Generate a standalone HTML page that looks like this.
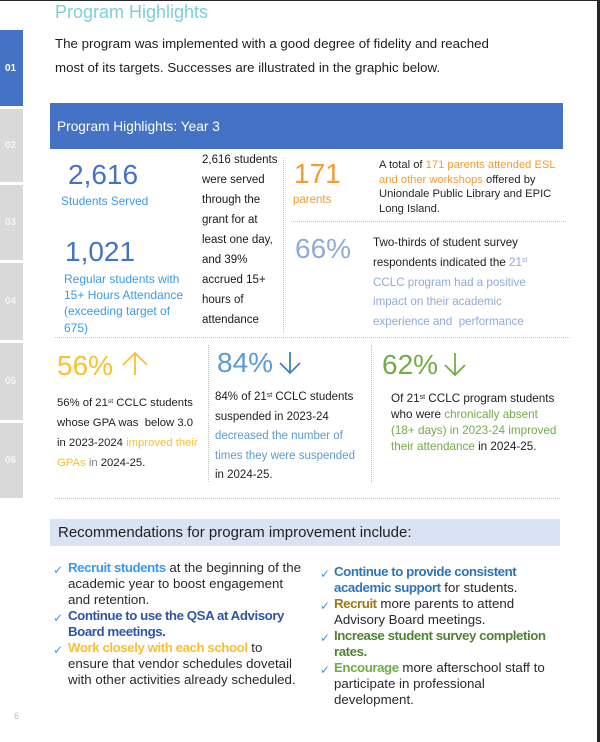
<!DOCTYPE html>
<html><head><meta charset="utf-8">
<style>
html,body{margin:0;padding:0;background:#fff;}
body{width:600px;height:742px;position:relative;overflow:hidden;font-family:"Liberation Sans",Arial,sans-serif;color:#222;}
.a{position:absolute;white-space:nowrap;}
.tab{position:absolute;left:0;width:23px;background:#d9d9d9;color:#f4f4f4;font-weight:bold;font-size:10px;display:flex;align-items:center;justify-content:center;padding-right:2px;box-sizing:border-box;}
.big{font-size:28px;line-height:28px;}
.hd{position:absolute;border-top:1px dotted #c4c4c4;height:0;}
.vd{position:absolute;border-left:1px dotted #c4c4c4;width:0;}
sup{font-size:0.6em;vertical-align:baseline;position:relative;top:-0.5em;line-height:0;}
.b{font-weight:bold;letter-spacing:-0.45px;}
.chk{position:absolute;color:#3a9af0;font-size:12px;}
</style></head><body>
<div style="position:absolute;left:0;top:0;width:600px;height:1px;background:#262626"></div>
<div style="position:absolute;left:597px;top:0;width:3px;height:742px;background:#262626"></div>

<div class="tab" style="top:30px;height:76px;background:#4472c4;color:#fff;">01</div>
<div class="tab" style="top:109px;height:73px;">02</div>
<div class="tab" style="top:185px;height:75px;">03</div>
<div class="tab" style="top:263px;height:77px;">04</div>
<div class="tab" style="top:343px;height:77px;">05</div>
<div class="tab" style="top:423px;height:75px;">06</div>

<div class="a" style="left:55px;top:2.8px;font-size:18px;line-height:18px;color:#7ccfd9;">Program Highlights</div>
<div class="a" style="left:55px;top:32.4px;font-size:13.3px;line-height:24px;color:#1e1e1e;">The program was implemented with a good degree of fidelity and reached<br>most of its targets. Successes are illustrated in the graphic below.</div>

<div style="position:absolute;left:50px;top:103px;width:513px;height:46px;background:#4472c4;"></div>
<div class="a" style="left:57px;top:120.4px;font-size:13.7px;line-height:13.7px;color:#fff;">Program Highlights: Year 3</div>

<div class="a big" style="left:68px;top:161.3px;color:#4472c4;">2,616</div>
<div class="a" style="left:61px;top:196px;font-size:11.8px;line-height:11.8px;color:#3a9af0;">Students Served</div>
<div class="a big" style="left:65px;top:238.3px;color:#4472c4;">1,021</div>
<div class="a" style="left:64px;top:270.7px;font-size:12px;line-height:16.3px;color:#3a9af0;">Regular students with<br>15+ Hours Attendance<br>(exceeding target of<br>675)</div>
<div class="a" style="left:202px;top:150px;font-size:11.5px;line-height:20px;color:#1a1a1a;">2,616 students<br>were served<br>through the<br>grant for at<br>least one day,<br>and 39%<br>accrued 15+<br>hours of<br>attendance</div>
<div class="vd" style="left:283px;top:158px;height:175px;"></div>

<div class="a big" style="left:294px;top:160.3px;color:#f79a2f;">171</div>
<div class="a" style="left:293px;top:195.3px;font-size:11.5px;line-height:11.5px;color:#f79a2f;">parents</div>
<div class="a" style="left:379px;top:157.8px;font-size:11.2px;line-height:14.7px;color:#262626;">A total of <span style="color:#f79a2f">171 parents attended ESL</span><br><span style="color:#f79a2f">and other workshops</span> offered by<br>Uniondale Public Library and EPIC<br>Long Island.</div>
<div class="hd" style="left:291px;top:221px;width:275px;"></div>
<div class="a big" style="left:295px;top:235.3px;color:#8faadc;">66%</div>
<div class="a" style="left:373px;top:233.1px;font-size:11.6px;line-height:19.75px;color:#1e1e1e;">Two-thirds of student survey<br>respondents indicated the <span style="color:#8faadc">21<sup>st</sup></span><br><span style="color:#8faadc">CCLC program had a positive<br>impact on their academic<br>experience and &nbsp;performance</span></div>

<div class="hd" style="left:55px;top:337px;width:515px;"></div>

<div class="a big" style="left:57px;top:352.3px;color:#f9c02f;">56%</div>
<svg class="a" style="left:120px;top:350px;" width="32" height="28"><g stroke="#f9c02f" stroke-width="1.8" fill="none"><line x1="15" y1="3" x2="15" y2="25"/><polyline points="3,15 15,3 27,15"/></g></svg>
<div class="a" style="left:57px;top:393px;font-size:11.3px;line-height:20px;color:#1e1e1e;">56% of 21<sup>st</sup> CCLC students<br>whose GPA was &nbsp;below 3.0<br>in 2023-2024 <span style="color:#f9c02f">improved their</span><br><span style="color:#f9c02f">GPAs</span> <span style="color:#808080">in</span> 2024-25.</div>
<div class="vd" style="left:208px;top:345px;height:137px;"></div>

<div class="a big" style="left:217px;top:349.3px;color:#5b9bd5;">84%</div>
<svg class="a" style="left:278px;top:350px;" width="24" height="26"><g stroke="#3f80c8" stroke-width="1.8" fill="none"><line x1="12" y1="2" x2="12" y2="23"/><polyline points="2,13 12,23 22,13"/></g></svg>
<div class="a" style="left:215px;top:388.3px;font-size:11.5px;line-height:19.5px;color:#1e1e1e;">84% of 21<sup>st</sup> CCLC students<br>suspended in 2023-24<br><span style="color:#5b9bd5">decreased the number of<br>times they were suspended</span><br>in 2024-25.</div>
<div class="vd" style="left:371px;top:345px;height:138px;"></div>

<div class="a big" style="left:382px;top:351.3px;color:#70ad47;">62%</div>
<svg class="a" style="left:443px;top:351px;" width="24" height="26"><g stroke="#70ad47" stroke-width="1.8" fill="none"><line x1="12" y1="2" x2="12" y2="24"/><polyline points="2,14 12,24 22,14"/></g></svg>
<div class="a" style="left:391px;top:391.1px;font-size:11.7px;line-height:16px;color:#1e1e1e;">Of 21<sup>st</sup> CCLC program students<br>who were <span style="color:#70ad47">chronically absent</span><br><span style="color:#70ad47">(18+ days) in 2023-24 improved</span><br><span style="color:#70ad47">their attendance</span> in 2024-25.</div>

<div class="hd" style="left:55px;top:498px;width:505px;"></div>

<div style="position:absolute;left:50px;top:519px;width:510px;height:27px;background:#dae3f3;"></div>
<div class="a" style="left:58px;top:525.3px;font-size:15px;line-height:15px;color:#1f1f1f;">Recommendations for program improvement include:</div>

<div class="chk" style="left:53px;top:563px;">✓</div>
<div class="chk" style="left:53px;top:611px;">✓</div>
<div class="chk" style="left:53px;top:643px;">✓</div>
<div class="a" style="left:68px;top:560.4px;font-size:13.3px;line-height:16px;color:#2b2730;"><span class="b" style="color:#3a9af0">Recruit students</span> at the beginning of the<br>academic year to boost engagement<br>and retention.<br><span class="b" style="color:#2f55a4">Continue to use the QSA at Advisory<br>Board meetings.</span><br><span class="b" style="color:#f9c02f">Work closely with each school</span> to<br>ensure that vendor schedules dovetail<br>with other activities already scheduled.</div>

<div class="chk" style="left:320px;top:567px;">✓</div>
<div class="chk" style="left:320px;top:599px;">✓</div>
<div class="chk" style="left:320px;top:631px;">✓</div>
<div class="chk" style="left:320px;top:663px;">✓</div>
<div class="a" style="left:334px;top:564.4px;font-size:13.3px;line-height:16px;color:#2b2730;"><span class="b" style="color:#2e75b6">Continue to provide consistent<br>academic support</span> for students.<br><span class="b" style="color:#9c7a16">Recruit</span> more parents to attend<br>Advisory Board meetings.<br><span class="b" style="color:#538135">Increase student survey completion<br>rates.</span><br><span class="b" style="color:#70ad47">Encourage</span> more afterschool staff to<br>participate in professional<br>development.</div>

<div class="a" style="left:14px;top:712.4px;font-size:9px;line-height:9px;color:#bdbdbd;">6</div>
</body></html>
